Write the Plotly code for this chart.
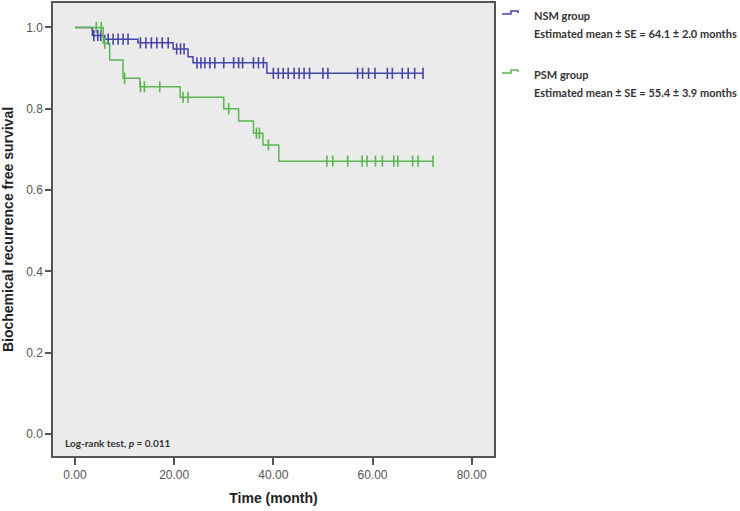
import plotly.graph_objects as go
import numpy as np

# ---------------- data ----------------
nsm_event_t = [0.0, 3.5, 6.0, 12.7, 19.8, 22.8, 23.8, 38.7]
nsm_event_s = [1.0, 0.980, 0.971, 0.962, 0.947, 0.928, 0.913, 0.887]
nsm_end_t = 70.2
nsm_cens_t = [3.8, 4.6, 5.2,
              6.7, 7.7, 8.7, 9.7, 10.7,
              13.2, 14.3, 15.4, 16.5, 17.6, 18.8,
              20.5, 21.3, 22.0,
              24.6, 25.4, 26.2, 27.2, 28.2, 30.0, 32.0, 33.0, 33.8, 36.0, 37.0, 38.0,
              40.0, 41.0, 42.0, 43.0, 44.2, 45.2, 46.2, 47.3, 50.0, 51.0,
              57.0, 58.0, 59.2, 60.5, 63.0, 64.0, 66.0, 67.2, 68.5, 70.2]

psm_event_t = [0.0, 5.7, 7.0, 9.7, 13.1, 21.2, 30.0, 33.0, 36.0, 37.9, 41.1]
psm_event_s = [1.0, 0.961, 0.920, 0.875, 0.854, 0.828, 0.800, 0.770, 0.740, 0.711, 0.671]
psm_end_t = 72.2
psm_cens_t = [4.3, 5.3, 6.0, 10.0, 13.2, 14.0, 17.1, 21.8, 22.8, 31.0, 36.6, 37.2, 39.0,
              50.8, 52.0, 55.0, 57.9, 58.9, 60.6, 62.0, 64.3, 65.1, 68.1, 69.2, 72.2]

x_ticks = [0, 20, 40, 60, 80]
y_ticks = [0.0, 0.2, 0.4, 0.6, 0.8, 1.0]

legend_names = ["NSM group", "PSM group"]
legend_stats = ["Estimated mean ± SE = 64.1 ± 2.0 months",
                "Estimated mean ± SE = 55.4 ± 3.9 months"]
logrank_text = "Log-rank test, <i>p</i> = 0.011"

BLUE = "#4646a8"
GREEN = "#5cb552"

# ---------------- figure ----------------
W, H = 740, 511
L, R, T, B = 53, 494, 3, 456


def px(x):
    return (x - L) / (R - L)


def py(y):
    return (B - y) / (B - T)


def level_at(times, surv, t):
    idx = np.searchsorted(np.array(times), t, side="right") - 1
    return surv[max(idx, 0)]


fig = go.Figure()

for ev_t, ev_s, end_t, cens, col in [
    (nsm_event_t, nsm_event_s, nsm_end_t, nsm_cens_t, BLUE),
    (psm_event_t, psm_event_s, psm_end_t, psm_cens_t, GREEN),
]:
    xs = list(ev_t) + [end_t]
    ys = list(ev_s) + [ev_s[-1]]
    fig.add_trace(go.Scatter(x=xs, y=ys, mode="lines", line=dict(color=col, width=1.5, shape="hv"),
                             showlegend=False, hoverinfo="skip"))
    cy = [level_at(ev_t, ev_s, t) for t in cens]
    fig.add_trace(go.Scatter(x=cens, y=cy, mode="markers",
                             marker=dict(symbol="line-ns", size=8, line=dict(color=col, width=1.6)),
                             showlegend=False, hoverinfo="skip"))

axis_font = dict(family="Liberation Sans, Arial", size=12, color="#555555")
title_font = dict(family="Liberation Sans, Arial", size=14, color="#222222", weight="bold")

fig.update_xaxes(range=[-4.43, 84.5], tickvals=x_ticks, tickformat=".2f",
                 ticks="outside", ticklen=7, tickwidth=1.5, tickcolor="#555555",
                 showline=True, linecolor="#555555", linewidth=1.5, mirror=True,
                 showgrid=False, zeroline=False, tickfont=axis_font, automargin=False,
                 title=dict(text="Time (month)", font=title_font, standoff=12))
fig.update_yaxes(range=[-0.054, 1.06], tickvals=y_ticks, tickformat=".1f",
                 ticks="outside", ticklen=6, tickwidth=1.5, tickcolor="#555555",
                 showline=True, linecolor="#555555", linewidth=1.5, mirror=True,
                 showgrid=False, zeroline=False, tickfont=axis_font, automargin=False,
                 title=dict(text="Biochemical recurrence free survival", font=title_font, standoff=10))

label_font = dict(family="Lato, Open Sans", size=10, color="#333333", weight="bold")
legend_font = dict(family="Lato, Open Sans", size=11, color="#333333", weight="bold")

annotations = [
    dict(x=px(63), y=py(443), xref="paper", yref="paper", text=logrank_text, showarrow=False,
         xanchor="left", yanchor="middle", font=label_font),
]
shapes = []
for i, (name, stat, col) in enumerate(zip(legend_names, legend_stats, [BLUE, GREEN])):
    y0 = 15 + i * 59
    annotations.append(dict(x=px(532), y=py(y0), xref="paper", yref="paper", text=name,
                            showarrow=False, xanchor="left", yanchor="middle", font=legend_font))
    annotations.append(dict(x=px(532), y=py(y0 + 18), xref="paper", yref="paper", text=stat,
                            showarrow=False, xanchor="left", yanchor="middle", font=legend_font))
    path = "M {} {} L {} {} L {} {} L {} {} L {} {}".format(
        px(502), py(y0 - 1), px(511), py(y0 - 1), px(511), py(y0 - 4), px(518), py(y0 - 4),
        px(518), py(y0 - 2))
    shapes.append(dict(type="path", path=path, xref="paper", yref="paper",
                       line=dict(color=col, width=1.5)))

fig.update_layout(
    width=W, height=H,
    margin=dict(l=L, r=W - R, t=T, b=H - B),
    paper_bgcolor="white", plot_bgcolor="#ebebeb",
    annotations=annotations, shapes=shapes,
    showlegend=False,
)

fig.write_html("out.html", config={"displayModeBar": False},
               post_script="document.body.style.margin='0';document.body.style.padding='0';")
